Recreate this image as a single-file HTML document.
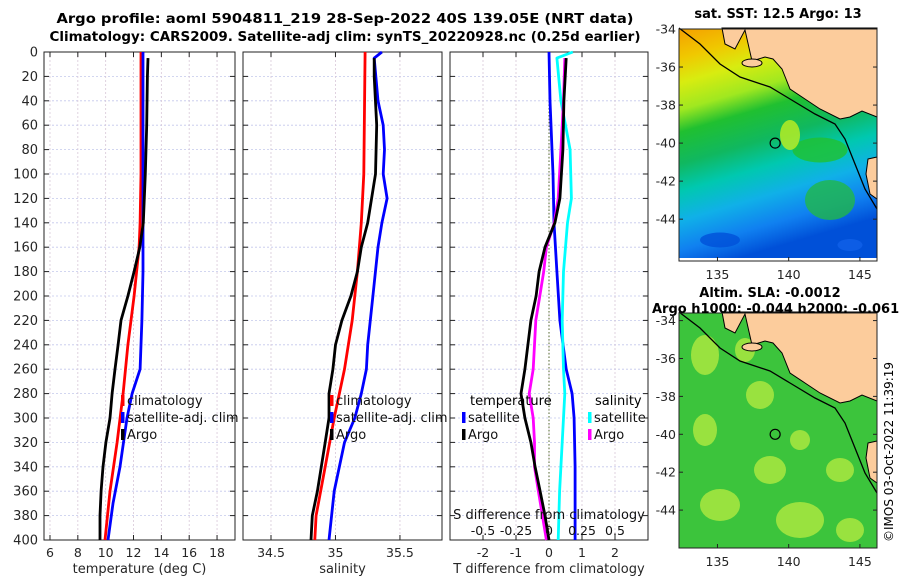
<!DOCTYPE html>
<html><head><meta charset="utf-8"><style>
body{margin:0;background:#fff;}
svg{font-family:"DejaVu Sans","Liberation Sans",sans-serif;}
</style></head><body>
<svg id="c" width="900" height="580" viewBox="0 0 900 580" xmlns="http://www.w3.org/2000/svg">
<text x="345" y="23" text-anchor="middle" font-size="13" font-weight="bold" textLength="577" lengthAdjust="spacingAndGlyphs">Argo profile: aoml 5904811_219 28-Sep-2022 40S 139.05E (NRT data)</text>
<text x="345" y="41" text-anchor="middle" font-size="13" font-weight="bold" textLength="591" lengthAdjust="spacingAndGlyphs">Climatology: CARS2009. Satellite-adj clim: synTS_20220928.nc (0.25d earlier)</text>
<g id="plots"></g>
<g id="maps"></g>
<text transform="translate(893,542) rotate(-90)" font-size="12">©IMOS 03-Oct-2022 11:39:19</text>
</svg>
<script>
// ---------- data ----------
const depthTicks=[0,20,40,60,80,100,120,140,160,180,200,220,240,260,280,300,320,340,360,380,400];
const tempTicks=[6,8,10,12,14,16,18];
const salTicks=[34.5,35,35.5];
const salTickLabels=["34.5","35","35.5"];
const tdiffTicks=[-2,-1,0,1,2];
const sdiffTicks=[-0.5,-0.25,0,0.25,0.5];
const sdiffLabels=["-0.5","-0.25","0","0.25","0.5"];

const argoDepth=[5,20,60,100,140,160,180,200,220,240,260,280,300,320,340,360,380,400];
const argoTemp=[13.04,13.0,12.95,12.85,12.7,12.45,12.04,11.6,11.1,10.89,10.67,10.46,10.31,10.02,9.81,9.67,9.59,9.59];
const climDepth=[0,100,140,160,200,240,280,320,360,400];
const climTemp=[12.54,12.54,12.47,12.4,12.04,11.6,11.25,10.82,10.31,9.95];
const satDepth=[0,140,180,220,260,280,300,340,370,400];
const satTemp=[12.68,12.68,12.68,12.6,12.47,11.9,11.53,11.03,10.53,10.17];

const argoSal=[35.3,35.3,35.32,35.31,35.25,35.2,35.17,35.12,35.05,35.0,34.98,34.95,34.95,34.92,34.89,34.86,34.82,34.81];
const climSalDepth=[0,100,140,180,220,260,300,340,380,400];
const climSal=[35.23,35.22,35.2,35.17,35.13,35.07,34.99,34.92,34.85,34.84];
const satSalDepth=[0,5,40,60,80,100,120,140,160,200,240,260,280,300,320,360,400];
const satSal=[35.36,35.3,35.33,35.37,35.38,35.37,35.4,35.36,35.33,35.29,35.25,35.24,35.2,35.15,35.07,34.99,34.95];

const tdArgoDepth=[5,40,80,120,140,160,180,200,220,240,260,280,300,320,340,360,380,400];
const tdArgo=[0.52,0.45,0.42,0.33,0.18,-0.12,-0.3,-0.39,-0.55,-0.64,-0.73,-0.85,-0.73,-0.55,-0.42,-0.27,-0.12,0];
const tdSatDepth=[0,40,60,100,140,180,220,260,280,300,340,380,400];
const tdSat=[0,0.03,0.06,0.12,0.15,0.24,0.33,0.52,0.7,0.76,0.79,0.79,0.79];
const sdArgo=[0.12,0.11,0.09,0.07,0.04,-0.02,-0.04,-0.07,-0.1,-0.11,-0.12,-0.15,-0.12,-0.11,-0.11,-0.08,-0.05,-0.02];
const sdSatDepth=[0,5,40,80,120,140,180,220,260,280,300,320,360,400];
const sdSat=[0.18,0.06,0.09,0.16,0.17,0.14,0.11,0.1,0.11,0.12,0.11,0.1,0.08,0.07];

// ---------- helpers ----------
const NS="http://www.w3.org/2000/svg";
function mk(parent,tag,attrs,txt){const e=document.createElementNS(NS,tag);for(const k in attrs)e.setAttribute(k,attrs[k]);if(txt!==undefined)e.textContent=txt;parent.appendChild(e);return e;}
const Y0=52,Y1=540;
const yS=d=>Y0+(d/400)*(Y1-Y0);
const plots=document.getElementById('plots');

function panel(name,x0,x1,xmin,xmax,ticks,labels,title,showY){
  const xs=v=>x0+(v-xmin)/(xmax-xmin)*(x1-x0);
  const g=mk(plots,'g',{});
  
  
  depthTicks.forEach(d=>{ if(d>0&&d<400) mk(g,'line',{x1:x0,x2:x1,y1:yS(d),y2:yS(d),stroke:'#c4c8ec','stroke-width':0.8,'stroke-dasharray':'2,2'});});
  ticks.forEach(t=>mk(g,'line',{x1:xs(t),x2:xs(t),y1:Y0,y2:Y1,stroke:'#d8c8d8','stroke-width':0.8,'stroke-dasharray':'2,2'}));
  mk(g,'rect',{x:x0,y:Y0,width:x1-x0,height:Y1-Y0,fill:'none',stroke:'#222','stroke-width':1});
  depthTicks.forEach(d=>{
    mk(g,'line',{x1:x0,x2:x0+5,y1:yS(d),y2:yS(d),stroke:'#222'});
    mk(g,'line',{x1:x1,x2:x1-5,y1:yS(d),y2:yS(d),stroke:'#222'});
    if(showY){const t=mk(g,'text',{x:x0-6,y:yS(d)+4.5,'text-anchor':'end','font-size':13,fill:'#262626'},String(d));
      }
  });
  ticks.forEach((t,i)=>{
    mk(g,'line',{x1:xs(t),x2:xs(t),y1:Y1,y2:Y1-5,stroke:'#222'});
    mk(g,'line',{x1:xs(t),x2:xs(t),y1:Y0,y2:Y0+5,stroke:'#222'});
    const l=mk(g,'text',{x:xs(t),y:557,'text-anchor':'middle','font-size':12.5,fill:'#262626'},labels[i]);
    
  });
  const tt=mk(g,'text',{x:(x0+x1)/2,y:573,'text-anchor':'middle','font-size':13,fill:'#262626'},title);
  
  return {g,xs};
}
function series(p,name,depths,vals,color,xs){
  const pts=depths.map((d,i)=>(xs||p.xs)(vals[i]).toFixed(1)+','+yS(d).toFixed(1)).join(' ');
  const e=mk(p.g,'polyline',{points:pts,fill:'none',stroke:color,'stroke-width':2.8,'stroke-linejoin':'round'});
  
  
}
function legend(g,x,y,color,label,name){
  mk(g,'rect',{x:x,y:y-10,width:3.5,height:11,fill:color});
  const t=mk(g,'text',{x:x+6,y:y,'font-size':13,fill:'#111'},label);
  
  
}

// panel 1
const p1=panel('temperature-panel',44,235,5.57,19.29,tempTicks,tempTicks.map(String),'temperature (deg C)',true);
series(p1,'climatology-temp-line',climDepth,climTemp,'#ff0000');
series(p1,'satellite-temp-line',satDepth,satTemp,'#0000ff');
series(p1,'argo-temp-line',argoDepth,argoTemp,'#000');
legend(p1.g,121,405,'#ff0000','climatology','legend-climatology');
legend(p1.g,121,422,'#0000ff','satellite-adj. clim','legend-satellite');
legend(p1.g,121,439,'#000','Argo','legend-argo');

// panel 2
const p2=panel('salinity-panel',243,442,34.283,35.826,salTicks,salTickLabels,'salinity',false);
series(p2,'climatology-sal-line',climSalDepth,climSal,'#ff0000');
series(p2,'satellite-sal-line',satSalDepth,satSal,'#0000ff');
series(p2,'argo-sal-line',argoDepth,argoSal,'#000');
legend(p2.g,330,405,'#ff0000','climatology','legend-climatology');
legend(p2.g,330,422,'#0000ff','satellite-adj. clim','legend-satellite');
legend(p2.g,330,439,'#000','Argo','legend-argo');

// panel 3
const p3=panel('difference-panel',450,648,-3,3,tdiffTicks,tdiffTicks.map(String),'T difference from climatology',false);
const sx=v=>549+v*132;
mk(p3.g,'line',{x1:549,x2:549,y1:Y0,y2:Y1,stroke:'#556b2f','stroke-width':1,'stroke-dasharray':'1.5,2'});
series(p3,'satellite-tdiff-line',tdSatDepth,tdSat,'#0000ff');
series(p3,'satellite-sdiff-line',sdSatDepth,sdSat,'#00ffff',sx);
series(p3,'argo-sdiff-line',tdArgoDepth,sdArgo,'#ff00ff',sx);
series(p3,'argo-tdiff-line',tdArgoDepth,tdArgo,'#000');
const lt=mk(p3.g,'text',{x:470,y:405,'font-size':13},'temperature');

legend(p3.g,462,422,'#0000ff','satellite','legend-t-satellite');
legend(p3.g,462,439,'#000','Argo','legend-t-argo');
const ls=mk(p3.g,'text',{x:595,y:405,'font-size':13},'salinity');

legend(p3.g,588,422,'#00ffff','satellite','legend-s-satellite');
legend(p3.g,588,439,'#ff00ff','Argo','legend-s-argo');
const st=mk(p3.g,'text',{x:549,y:519,'text-anchor':'middle','font-size':13,fill:'#111'},'S difference from climatology');

sdiffTicks.forEach((t,i)=>{const l=mk(p3.g,'text',{x:sx(t),y:535,'text-anchor':'middle','font-size':12.5,fill:'#111'},sdiffLabels[i]);
  });

// ---------- maps ----------
const maps=document.getElementById('maps');
const latTicks=[-34,-36,-38,-40,-42,-44];
const lonTicks=[135,140,145];
const MX0=679,MX1=877;
const lonS=l=>MX0+(l-132.3)/(146.2-132.3)*(MX1-MX0);
function map(name,top,bottom,latTop,latBot,kind,title,titleX,anchor){
  const g=mk(maps,'g',{});
  
  
  const latS=l=>top+(l-latTop)/(latBot-latTop)*(bottom-top);
  const id='grad'+kind;
  const defs=mk(g,'defs',{});
  if(kind==='sst'){
    const lg=mk(defs,'linearGradient',{id:id,x1:0,y1:0,x2:0.25,y2:1});
    [[0,'#f5a000'],[0.12,'#f0c800'],[0.22,'#d8ec10'],[0.33,'#a0e820'],[0.42,'#20c030'],[0.55,'#10b860'],[0.66,'#00c8b0'],[0.78,'#10b0e8'],[0.9,'#1080f0'],[1,'#0050d8']].forEach(s=>mk(lg,'stop',{offset:s[0],'stop-color':s[1]}));
    mk(g,'rect',{x:MX0,y:top,width:MX1-MX0,height:bottom-top,fill:'url(#'+id+')'});
    mk(g,'rect',{x:MX0,y:bottom-3,width:MX1-MX0,height:3,fill:'#fff'});
    [[820,150,55,25,'#20c030'],[830,200,50,40,'#20b848'],[790,135,20,30,'#c0f020'],[720,240,40,15,'#0050d8'],[850,245,25,12,'#1060e8']].forEach(b=>mk(g,'ellipse',{cx:b[0],cy:b[1],rx:b[2]/2,ry:b[3]/2,fill:b[4],opacity:0.8}));
  } else {
    mk(g,'rect',{x:MX0,y:top,width:MX1-MX0,height:bottom-top,fill:'#3cc43c'});
    [[705,355,14,20],[745,350,10,12],[760,395,14,14],[705,430,12,16],[770,470,16,14],[720,505,20,16],[800,520,24,18],[850,530,14,12],[840,470,14,12],[800,440,10,10]].forEach(b=>mk(g,'ellipse',{cx:b[0],cy:b[1],rx:b[2],ry:b[3],fill:'#b8ec40',opacity:0.75}));
  }
  const o=top-30;
  const land=[[722,29],[725,45],[735,50],[745,31],[752,62],[765,58],[773,60],[782,70],[790,90],[805,100],[820,110],[840,120],[850,118],[862,112],[877,118],[877,29]].map(p=>p[0]+','+(p[1]+o)).join(' ');
  mk(g,'polygon',{points:land,fill:'#fccc9c',stroke:'#000','stroke-width':1});
  mk(g,'polygon',{points:[[868,160],[877,158],[877,200],[870,195],[866,175]].map(p=>p[0]+','+(p[1]+o)).join(' '),fill:'#fccc9c',stroke:'#000','stroke-width':1});
  mk(g,'ellipse',{cx:752,cy:64+o,rx:10,ry:4,fill:'#fccc9c',stroke:'#000'});
  mk(g,'polyline',{points:[[679,29],[700,45],[720,65],[740,78],[770,88],[790,100],[815,115],[835,125],[845,140],[855,165],[865,190],[877,210]].map(p=>p[0]+','+(p[1]+o)).join(' '),fill:'none',stroke:'#000','stroke-width':1.3});
  const argoMark=mk(g,'circle',{cx:lonS(139.05),cy:latS(-40),r:5,fill:'none',stroke:'#000','stroke-width':1.2});
  
  
  mk(g,'rect',{x:MX0,y:top,width:MX1-MX0,height:bottom-top,fill:'none',stroke:'#222'});
  latTicks.forEach(l=>{const y=latS(l);
    mk(g,'line',{x1:MX0,x2:MX0+4,y1:y,y2:y,stroke:'#222'});mk(g,'line',{x1:MX1,x2:MX1-4,y1:y,y2:y,stroke:'#222'});
    const t=mk(g,'text',{x:MX0-3,y:y+4.5,'text-anchor':'end','font-size':12.5,fill:'#262626'},String(l));
    });
  lonTicks.forEach(l=>{const x=lonS(l);
    mk(g,'line',{x1:x,x2:x,y1:bottom,y2:bottom-4,stroke:'#222'});
    const t=mk(g,'text',{x:x,y:bottom+18,'text-anchor':'middle','font-size':12.5,fill:'#262626'},String(l));
    });
  title.forEach((s,i)=>{const t=mk(g,'text',{x:titleX[i],y:s[1],'text-anchor':anchor[i],'font-size':13,'font-weight':'bold'},s[0]);
    });
}
map('sst-map',29,261,-34,-46.2,'sst',[['sat. SST: 12.5 Argo: 13',18]],[778],['middle']);
map('sla-map',313,548,-33.6,-46,'sla',[['Altim. SLA: -0.0012',297],['Argo h1000: -0.044 h2000: -0.061',313]],[770,652],['middle','start']);
</script>
</body></html>
